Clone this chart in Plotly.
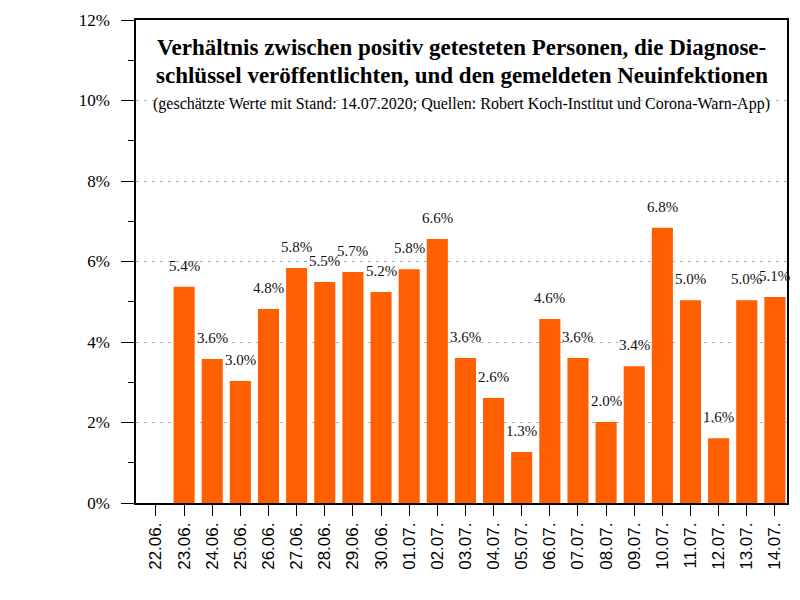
import plotly.graph_objects as go

dates = ["22.06.", "23.06.", "24.06.", "25.06.", "26.06.", "27.06.", "28.06.", "29.06.",
         "30.06.", "01.07.", "02.07.", "03.07.", "04.07.", "05.07.", "06.07.", "07.07.",
         "08.07.", "09.07.", "10.07.", "11.07.", "12.07.", "13.07.", "14.07."]
share_pct = [0.0, 5.37, 3.58, 3.03, 4.82, 5.84, 5.49, 5.74,
             5.24, 5.81, 6.56, 3.60, 2.61, 1.27, 4.57, 3.60,
             2.01, 3.40, 6.84, 5.04, 1.61, 5.04, 5.12]
y_ticks = [0, 2, 4, 6, 8, 10, 12]

title_line1 = "Verhältnis zwischen positiv getesteten Personen, die Diagnose-"
title_line2 = "schlüssel veröffentlichten, und den gemeldeten Neuinfektionen"
subtitle = "(geschätzte Werte mit Stand: 14.07.2020; Quellen: Robert Koch-Institut und Corona-Warn-App)"

SERIF = "Liberation Serif"
SANS = "Liberation Sans"

fig = go.Figure()
fig.add_trace(go.Bar(
    x=dates, y=share_pct,
    marker=dict(color="#ff5f00", line=dict(width=0)),
    width=0.75,
    hoverinfo="x+y",
))

annotations = []
for d, v in zip(dates, share_pct):
    if v > 0:
        annotations.append(dict(
            x=d, y=v, xref="x", yref="y", text=f"{v:.1f}%",
            showarrow=False, yanchor="middle", yshift=21,
            font=dict(family=SERIF, size=15, color="#111"),
        ))

annotations += [
    dict(x=0.5, y=0.944, xref="paper", yref="paper", text=f"<b>{title_line1}</b>",
         showarrow=False, xanchor="center", yanchor="middle",
         font=dict(family=SERIF, size=23, color="#000")),
    dict(x=0.5, y=0.886, xref="paper", yref="paper", text=f"<b>{title_line2}</b>",
         showarrow=False, xanchor="center", yanchor="middle",
         font=dict(family=SERIF, size=23, color="#000")),
    dict(x=0.5, y=0.826, xref="paper", yref="paper", text=subtitle,
         showarrow=False, xanchor="center", yanchor="middle",
         font=dict(family=SERIF, size=16, color="#000")),
]

fig.update_layout(
    width=800, height=600,
    margin=dict(l=136, r=13, t=20, b=97, autoexpand=False),
    paper_bgcolor="white", plot_bgcolor="white",
    showlegend=False,
    font=dict(family=SERIF, size=17, color="#000"),
    annotations=annotations,
    bargap=0.25,
)

fig.update_xaxes(
    type="category",
    range=[-0.71, 22.43],
    automargin=False,
    showline=True, linecolor="black", linewidth=1.5, mirror=True,
    ticks="outside", ticklen=11, tickwidth=1.2, tickcolor="black",
    tickangle=-90,
    tickfont=dict(family=SANS, size=17, color="#000"),
    showgrid=False, zeroline=False,
)

fig.update_yaxes(
    range=[0, 12],
    automargin=False,
    tickvals=y_ticks,
    ticktext=[f"{t}%" for t in y_ticks],
    showline=True, linecolor="black", linewidth=1.5, mirror=True,
    ticks="outside", ticklen=13, tickwidth=1.2, tickcolor="black",
    ticklabelstandoff=8,
    minor=dict(dtick=1, ticklen=6, tickwidth=1.2, tickcolor="black", showgrid=False, ticks="outside"),
    tickfont=dict(family=SERIF, size=17, color="#000"),
    showgrid=True, gridcolor="#b0b0b0", gridwidth=1, griddash="3px,5px",
    zeroline=False,
)

fig.write_html("out.html", config={"displayModeBar": False},
               post_script="document.body.style.margin='0px';")
